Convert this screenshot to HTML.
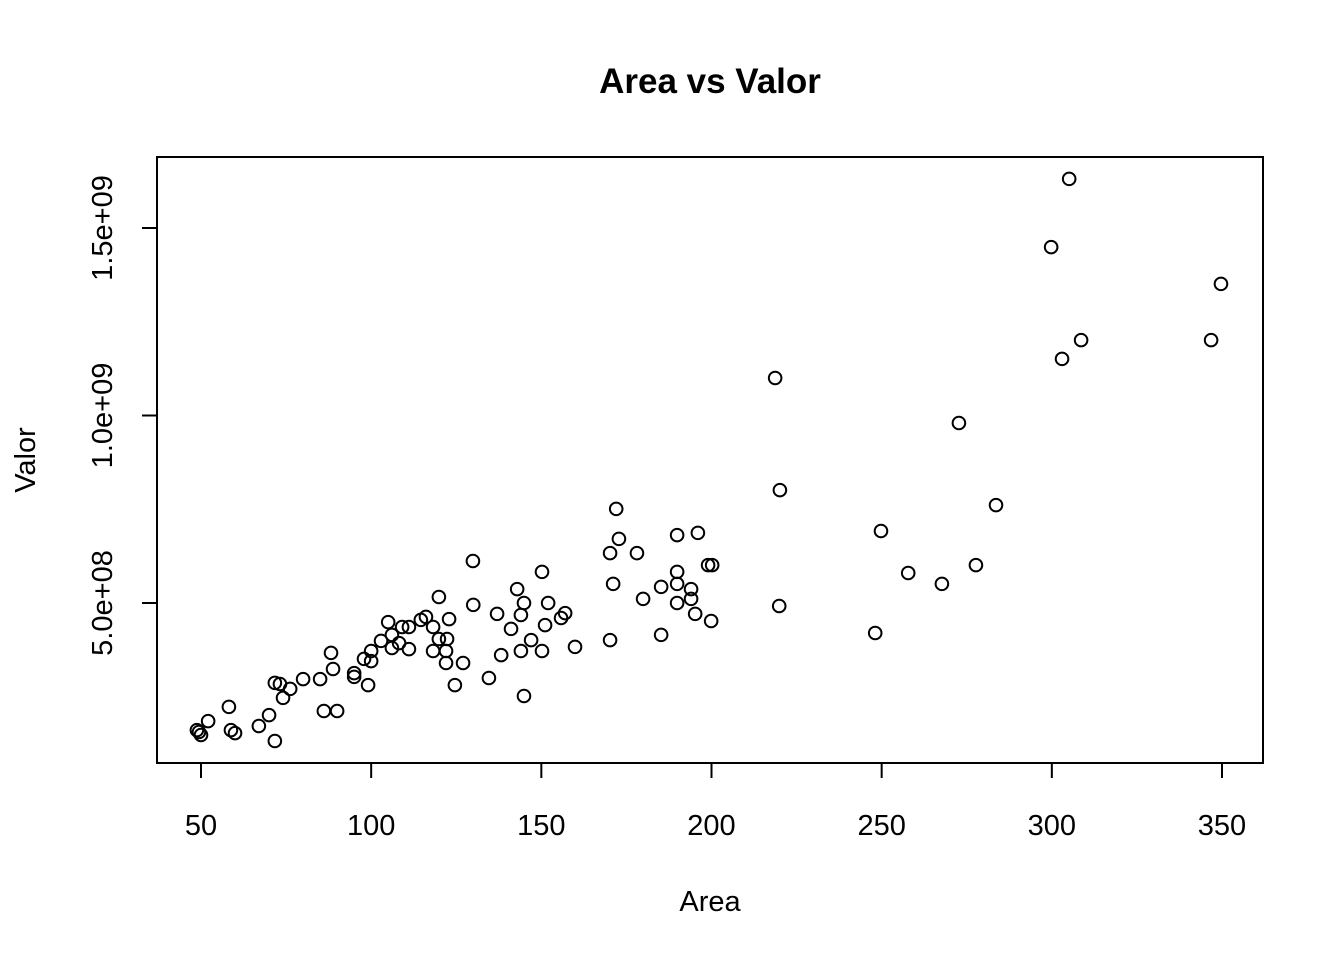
<!DOCTYPE html>
<html><head><meta charset="utf-8"><style>html,body{margin:0;padding:0;background:#fff}svg{display:block}</style></head>
<body>
<svg id="chart" width="1344" height="960" xmlns="http://www.w3.org/2000/svg" font-family="Liberation Sans, Arial, sans-serif">
<rect width="1344" height="960" fill="#fff"/>
<text x="710" y="93" text-anchor="middle" font-size="35" font-weight="bold">Area vs Valor</text>
<rect x="157" y="157" width="1106" height="606" fill="none" stroke="#000" stroke-width="2"/>
<text x="710" y="911" text-anchor="middle" font-size="29">Area</text>
<text transform="translate(35,460) rotate(-90)" text-anchor="middle" font-size="29">Valor</text>
<g id="xaxis"></g>
<g id="yaxis"></g>
<g id="points"></g>
</svg>
<script>
const xTicks = [50,100,150,200,250,300,350];
const yTicks = [5e8,1e9,1.5e9];
const yTickLabels = ["5.0e+08","1.0e+09","1.5e+09"];
const area = [129.9,119.9,130,105,109.1,111.1,114.6,116.1,118.2,122.9,106.1,102.9,108.2,106.1,111.1,119.9,122.3,118.2,122,122,127,124.6,88.2,88.8,85,80,100,97.9,100,95,95,99.1,71.7,73.2,76.2,74.1,86.1,90,58.2,52.1,48.8,50,49.4,58.8,60,67,70,71.7,172,172.8,170.2,178.1,189.9,196,199,200.2,189.9,171.1,185.2,189.9,194,179.9,189.9,194,195.2,199.9,185.2,170.2,150.2,142.9,144.9,152,137,144,157,155.8,151.1,141.1,147,144,150.2,159.9,138.2,134.6,144.9,218.7,220.1,219.9,248.1,249.8,257.8,267.7,272.7,277.7,283.6,299.8,305.1,303,308.6,346.8,349.7];
const valor = [6.12,5.16,4.95,4.49,4.36,4.36,4.55,4.63,4.36,4.57,4.15,3.99,3.93,3.8,3.77,4.04,4.04,3.72,3.72,3.4,3.4,2.81,3.67,3.24,2.97,2.97,3.72,3.51,3.45,3.13,3.03,2.81,2.87,2.84,2.71,2.47,2.12,2.12,2.23,1.85,1.61,1.48,1.56,1.61,1.53,1.72,2.01,1.32,7.51,6.71,6.33,6.33,6.81,6.87,6.01,6.01,5.83,5.51,5.43,5.51,5.37,5.11,5,5.11,4.71,4.52,4.15,4.01,5.83,5.37,5,5,4.71,4.68,4.73,4.6,4.41,4.31,4.01,3.72,3.72,3.83,3.61,3,2.52,11,8.01,4.92,4.2,6.92,5.8,5.51,9.8,6.01,7.61,14.49,16.31,11.51,12.01,12.01,13.51].map(v=>v*1e8);

const NS="http://www.w3.org/2000/svg";
const xScale = v => 201 + (v-50)*(1021/300);
const yScale = v => 603 - (v-5e8)*(375/1e9);
function mk(tag, attrs, parent){const e=document.createElementNS(NS,tag);for(const k in attrs)e.setAttribute(k,attrs[k]);parent.appendChild(e);return e;}
const xg=document.getElementById('xaxis'), yg=document.getElementById('yaxis'), pg=document.getElementById('points');
mk('line',{x1:xScale(xTicks[0]),x2:xScale(xTicks[xTicks.length-1]),y1:763,y2:763,stroke:'#000','stroke-width':2},xg);
xTicks.forEach(t=>{
  const l=mk('line',{x1:xScale(t),x2:xScale(t),y1:763,y2:778,stroke:'#000','stroke-width':2},xg);
  
  
  const tx=mk('text',{x:xScale(t),y:835,'text-anchor':'middle','font-size':29},xg);
  tx.textContent=t;
  
  
});
mk('line',{x1:157,x2:157,y1:yScale(yTicks[0]),y2:yScale(yTicks[yTicks.length-1]),stroke:'#000','stroke-width':2},yg);
yTicks.forEach((t,i)=>{
  const y=yScale(t);
  const l=mk('line',{x1:142,x2:157,y1:y,y2:y,stroke:'#000','stroke-width':2},yg);
  
  
  const tx=mk('text',{transform:`translate(112,${y}) rotate(-90)`,'text-anchor':'middle','font-size':29},yg);
  tx.textContent=yTickLabels[i];
  
  
});
area.forEach((a,i)=>{
  const c=mk('circle',{cx:xScale(a),cy:yScale(valor[i]),r:6.3,fill:'none',stroke:'#000','stroke-width':2},pg);
  
  
});
</script>
</body></html>
